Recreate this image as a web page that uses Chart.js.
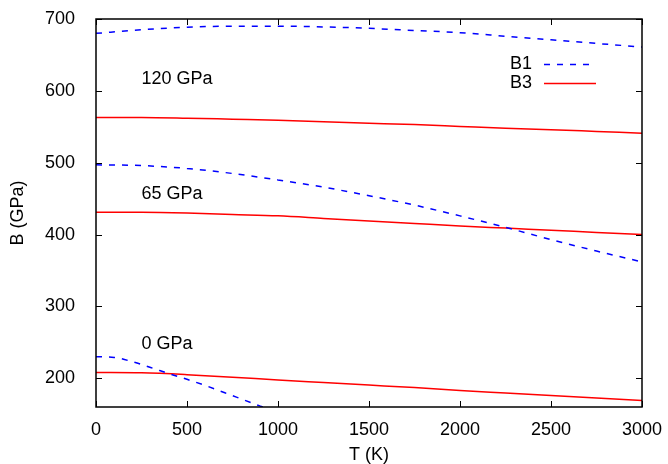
<!DOCTYPE html>
<html>
<head>
<meta charset="utf-8">
<script src="https://cdn.jsdelivr.net/npm/chart.js@4.4.1/dist/chart.umd.min.js"></script>
<style>
  html, body { margin: 0; padding: 0; background: #fff; }
  #wrap { width: 668px; height: 464px; }
</style>
</head>
<body>
<div id="wrap"><canvas id="chart" width="668" height="464"></canvas></div>
<script>
// temperature grid (K) shared by most curves
const temps = [0, 250, 500, 750, 1000, 1250, 1500, 1750, 2000, 2250, 2500, 2750, 3000];

// B1 phase (blue dashed), bulk modulus in GPa
const b1_120 = [680, 685, 688.5, 690, 690, 689, 687, 684, 681, 676, 671, 666, 661];
const b1_65 = [497, 496, 492, 485, 476, 466, 454, 441, 426, 410, 393, 377, 362];
const temps_b1_0 = [0, 100, 200, 300, 400, 500, 600, 700, 800, 900, 1000];
const b1_0 = [230, 229, 223, 215, 206.5, 198.5, 190, 180.5, 171, 161.5, 152];

// B3 phase (red solid)
const b3_120 = [563, 563, 562, 560.5, 559, 557, 555, 553, 550.5, 548, 546, 543.5, 541];
const b3_65 = [431, 431, 430, 428, 426, 422.5, 419, 415.5, 412, 409, 406, 403, 400];
const b3_0 = [208, 207.5, 205, 201.5, 197.5, 194, 190.5, 187, 183, 179.5, 176, 172.5, 169];

const xTicks = [0, 500, 1000, 1500, 2000, 2500, 3000];
const yTicks = [200, 300, 400, 500, 600, 700];

// pressure labels: [text, T, B]
const pressureLabels = [
    ['120 GPa', 250, 616],
    ['65 GPa', 250, 456],
    ['0 GPa', 250, 248],
];

const FONT = "'Liberation Sans', Arial, Helvetica, sans-serif";
const FSIZE = 18;
const BLUE = '#0000ff';
const RED = '#ff0000';

function pts(xs, ys) {
    return xs.map((x, i) => ({ x: x, y: ys[i] }));
}

function b1Set(data) {
    return {
        label: 'B1', data: data, borderColor: BLUE, borderWidth: 1.5,
        borderDash: [6, 7], pointRadius: 0, cubicInterpolationMode: 'monotone', fill: false
    };
}

function b3Set(data) {
    return {
        label: 'B3', data: data, borderColor: RED, borderWidth: 1.5,
        pointRadius: 0, cubicInterpolationMode: 'monotone', fill: false
    };
}

// frame, inward ticks on all sides, legend and pressure labels
const gnuplotLook = {
    id: 'gnuplotLook',
    afterDatasetsDraw(chart) {
        const { ctx, chartArea: a, scales } = chart;
        const tl = 6;
        ctx.save();
        ctx.strokeStyle = '#000';
        ctx.lineWidth = 1;
        ctx.beginPath();
        xTicks.forEach(v => {
            const px = Math.round(scales.x.getPixelForValue(v)) + 0.5;
            ctx.moveTo(px, a.bottom); ctx.lineTo(px, a.bottom - tl);
            ctx.moveTo(px, a.top); ctx.lineTo(px, a.top + tl);
        });
        yTicks.forEach(v => {
            const py = Math.round(scales.y.getPixelForValue(v)) + 0.5;
            ctx.moveTo(a.left, py); ctx.lineTo(a.left + tl, py);
            ctx.moveTo(a.right, py); ctx.lineTo(a.right - tl, py);
        });
        ctx.stroke();

        ctx.lineWidth = 1.5;
        ctx.strokeRect(a.left, a.top, a.right - a.left, a.bottom - a.top);

        // pressure labels
        ctx.fillStyle = '#000';
        ctx.font = FSIZE + 'px ' + FONT;
        ctx.textBaseline = 'middle';
        ctx.textAlign = 'left';
        pressureLabels.forEach(([t, x, y]) => {
            ctx.fillText(t, scales.x.getPixelForValue(x), scales.y.getPixelForValue(y));
        });

        // legend
        const entries = [chart.data.datasets[0], chart.data.datasets[3]];
        ctx.textAlign = 'right';
        entries.forEach((ds, i) => {
            const y = 64 + i * 19;
            ctx.fillStyle = '#000';
            ctx.fillText(ds.label, 532, y);
            ctx.strokeStyle = ds.borderColor;
            ctx.lineWidth = ds.borderWidth;
            ctx.setLineDash(ds.borderDash || []);
            ctx.beginPath();
            ctx.moveTo(544, y + 0.5);
            ctx.lineTo(596, y + 0.5);
            ctx.stroke();
            ctx.setLineDash([]);
        });
        ctx.restore();
    }
};

new Chart(document.getElementById('chart'), {
    type: 'line',
    data: {
        datasets: [
            b1Set(pts(temps, b1_120)),
            b1Set(pts(temps, b1_65)),
            b1Set(pts(temps_b1_0, b1_0)),
            b3Set(pts(temps, b3_120)),
            b3Set(pts(temps, b3_65)),
            b3Set(pts(temps, b3_0)),
        ]
    },
    options: {
        responsive: false,
        animation: false,
        devicePixelRatio: 1,
        layout: { padding: { top: 19, right: 26, left: 0, bottom: 0 } },
        plugins: { legend: { display: false }, tooltip: { enabled: false } },
        scales: {
            x: {
                type: 'linear', min: 0, max: 3000,
                afterFit: s => { s.height = 57; s.paddingLeft = 0; s.paddingRight = 0; },
                afterBuildTicks: s => { s.ticks = xTicks.map(v => ({ value: v })); },
                grid: { display: false },
                border: { display: false },
                ticks: {
                    color: '#000', font: { family: FONT, size: FSIZE }, padding: 4, maxRotation: 0,
                    callback: v => String(v)
                },
                title: { display: true, text: 'T (K)', color: '#000', font: { family: FONT, size: FSIZE }, padding: { top: 0, bottom: -2 } }
            },
            y: {
                type: 'linear', min: 160, max: 700,
                afterFit: s => { s.width = 96; s.paddingTop = 0; s.paddingBottom = 0; },
                afterBuildTicks: s => { s.ticks = yTicks.map(v => ({ value: v })); },
                grid: { display: false },
                border: { display: false },
                ticks: { color: '#000', font: { family: FONT, size: FSIZE }, padding: 13, callback: v => String(v) },
                title: { display: true, text: 'B (GPa)', color: '#000', font: { family: FONT, size: FSIZE }, padding: { top: 7, bottom: 0 } }
            }
        }
    },
    plugins: [gnuplotLook]
});
</script>
</body>
</html>
